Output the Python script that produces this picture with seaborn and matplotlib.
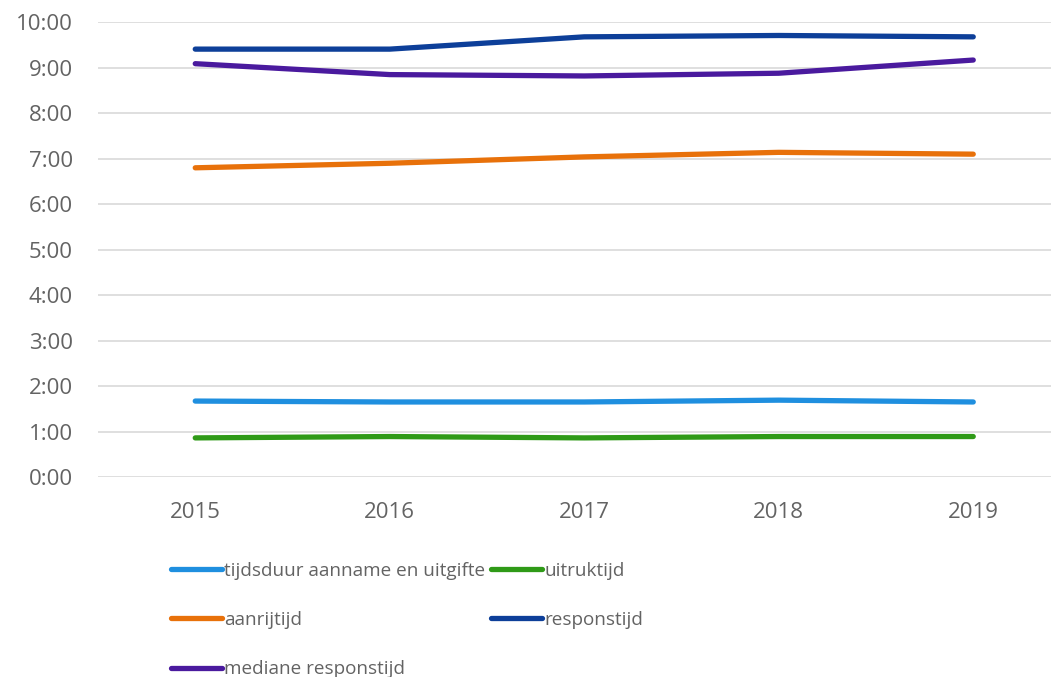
import matplotlib
matplotlib.use("Agg")
import matplotlib.pyplot as plt
import seaborn as sns
import pandas as pd
from matplotlib.ticker import FuncFormatter, FixedLocator
from matplotlib.lines import Line2D

years = ["2015", "2016", "2017", "2018", "2019"]
# values in minutes
tijdsduur = [1.67, 1.65, 1.65, 1.69, 1.65]
uitruktijd = [0.86, 0.89, 0.86, 0.89, 0.89]
aanrijtijd = [6.80, 6.90, 7.04, 7.14, 7.10]
responstijd = [9.41, 9.41, 9.68, 9.71, 9.68]
mediane = [9.09, 8.85, 8.82, 8.88, 9.17]

series_names = ["tijdsduur aanname en uitgifte", "uitruktijd", "aanrijtijd",
                "responstijd", "mediane responstijd"]
series_vals = [tijdsduur, uitruktijd, aanrijtijd, responstijd, mediane]
colors = ["#1f8fdf", "#2f9a17", "#e8710a", "#0d3f99", "#4a1a9e"]
yticks = [0, 1, 2, 3, 4, 5, 6, 7, 8, 9, 10]

rows = []
for name, vals in zip(series_names, series_vals):
    for i, (yr, v) in enumerate(zip(years, vals)):
        rows.append({"pos": i, "jaar": yr, "serie": name, "minuten": v})
df = pd.DataFrame(rows)

sns.set_theme(style="white")
plt.rcParams['font.family'] = ['Open Sans', 'DejaVu Sans']

fig = plt.figure(figsize=(10.51, 6.77), dpi=100)
ax = fig.add_axes([98/1051, 1-477/677, 1-98/1051, (477-22.3)/677])

palette = dict(zip(series_names, colors))
sns.lineplot(data=df, x="pos", y="minuten", hue="serie", palette=palette,
             hue_order=series_names, linewidth=3.8, ax=ax, legend=False,
             sort=False)
for ln in ax.get_lines():
    ln.set_solid_capstyle("round")
    ln.set_solid_joinstyle("round")

ax.set_ylim(0, 10)
ax.set_xlim(-0.5, (1051-98)/194.5 - 0.5)
ax.yaxis.set_major_locator(FixedLocator(yticks))
ax.yaxis.set_major_formatter(FuncFormatter(lambda v, p: f"{int(v)}:{int(round((v-int(v))*60)):02d}"))
ax.set_xticks(range(len(years)))
ax.set_xticklabels(years)
ax.grid(axis="y", color="#d9d9d9", linewidth=1.2)
ax.set_axisbelow(True)
for s in ax.spines.values():
    s.set_visible(False)
ax.tick_params(axis="both", length=0, labelsize=16, colors="#636363")
ax.tick_params(axis="y", pad=18)
ax.tick_params(axis="x", pad=18)
ax.set_xlabel("")
ax.set_ylabel("")

order = [0, 2, 4, 1, 3]
handles = [Line2D([0], [0], color=colors[i], linewidth=3.8, solid_capstyle="round") for i in order]
labels = [series_names[i] for i in order]
leg = fig.legend(handles, labels, ncol=2, loc="upper left",
                 bbox_to_anchor=(171/1051, 1-561.5/677), frameon=False,
                 fontsize=13.6, handlelength=2.7, handletextpad=0.12,
                 columnspacing=0.32, labelspacing=1.66, borderpad=0, borderaxespad=0)
for t in leg.get_texts():
    t.set_color("#636363")

fig.savefig("out.png", dpi=100)
